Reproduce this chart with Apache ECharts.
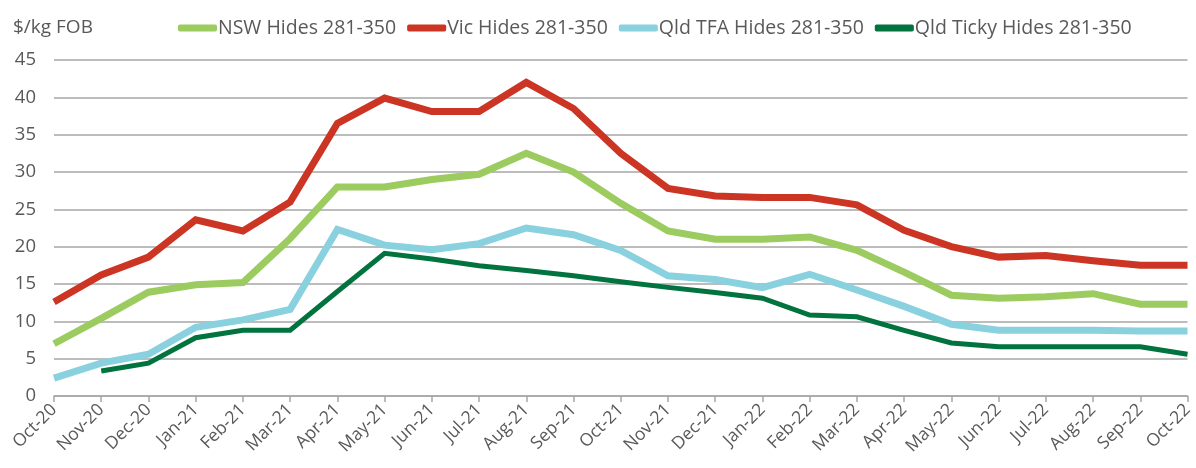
<!DOCTYPE html>
<html><head><meta charset="utf-8">
<script src="https://cdn.jsdelivr.net/npm/echarts@6/dist/echarts.min.js"></script>
<style>html,body{margin:0;padding:0;background:#fff}#c{width:1196px;height:468px}</style>
</head><body><div id="c"></div>
<script>
const categories = ['Oct-20','Nov-20','Dec-20','Jan-21','Feb-21','Mar-21','Apr-21','May-21','Jun-21','Jul-21','Aug-21','Sep-21','Oct-21','Nov-21','Dec-21','Jan-22','Feb-22','Mar-22','Apr-22','May-22','Jun-22','Jul-22','Aug-22','Sep-22','Oct-22'];
const nswHides = [7.0,10.4,13.9,14.9,15.2,21.1,28.0,28.0,29.0,29.7,32.5,30.0,25.8,22.1,21.0,21.0,21.3,19.5,16.6,13.5,13.1,13.3,13.7,12.3,12.3];
const vicHides = [12.6,16.2,18.6,23.6,22.1,26.0,36.5,39.9,38.1,38.1,42.0,38.5,32.5,27.8,26.8,26.6,26.6,25.6,22.2,20.0,18.6,18.8,18.1,17.5,17.5];
const qldTfaHides = [2.4,4.4,5.6,9.2,10.2,11.6,22.3,20.2,19.6,20.4,22.5,21.6,19.5,16.1,15.6,14.5,16.3,14.2,12.0,9.6,8.8,8.8,8.8,8.7,8.7];
const qldTickyHides = [null,3.35,4.4,7.8,8.8,8.8,14.0,19.1,18.35,17.45,16.8,16.1,15.3,14.55,13.85,13.1,10.85,10.6,8.8,7.1,6.6,6.6,6.6,6.6,5.6];
const yTicks = [0,5,10,15,20,25,30,35,40,45];

const FONT = 'Open Sans';
const TXT = '#595959';
const chart = echarts.init(document.getElementById('c'));
function line(name, data, color, width) {
  return { name, type:'line', data, symbol:'none', connectNulls:false,
    lineStyle:{color, width, cap:'butt', join:'miter'}, itemStyle:{color}, z: 2 };
}
chart.setOption({
  animation:false,
  textStyle:{fontFamily:FONT},
  title:{text:'$/kg FOB', left:8, top:13, textStyle:{fontFamily:FONT, fontSize:19, fontWeight:'normal', color:TXT}},
  legend:{
    top:13, left:173, itemGap:11, itemWidth:39, itemHeight:7, icon:'roundRect',
    textStyle:{fontFamily:FONT, fontSize:19.5, color:TXT, padding:[0,0,0,-4]},
    data:['NSW Hides 281-350','Vic Hides 281-350','Qld TFA Hides 281-350','Qld Ticky Hides 281-350']
  },
  grid:{left:54, right:6, top:60, bottom:72, containLabel:false},
  xAxis:{
    type:'category', data:categories, boundaryGap:false,
    axisLine:{lineStyle:{color:'#a6a6a6', width:1.5}},
    axisTick:{show:true, length:6, lineStyle:{color:'#a6a6a6', width:1.5}},
    axisLabel:{rotate:45, interval:0, fontFamily:FONT, fontSize:17.5, color:TXT, margin:11}
  },
  yAxis:{
    type:'value', min:yTicks[0], max:yTicks[yTicks.length-1], interval:5,
    axisLine:{show:false}, axisTick:{show:false},
    splitLine:{lineStyle:{color:'#a6a6a6', width:1.5}},
    axisLabel:{fontFamily:FONT, fontSize:18.5, color:TXT, margin:18}
  },
  series:[
    line('NSW Hides 281-350', nswHides, '#9ccb5f', 7),
    line('Vic Hides 281-350', vicHides, '#cc3423', 7),
    line('Qld TFA Hides 281-350', qldTfaHides, '#89d1df', 7),
    line('Qld Ticky Hides 281-350', qldTickyHides, '#00733f', 5)
  ]
});
</script></body></html>
